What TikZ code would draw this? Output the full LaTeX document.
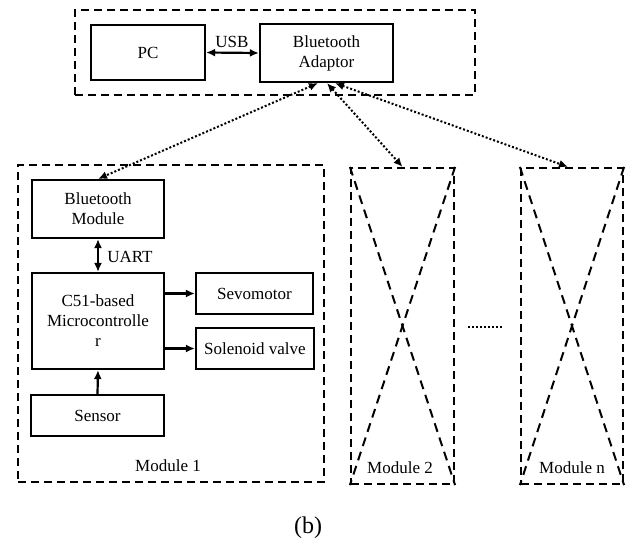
\documentclass[tikz,border=0pt]{standalone}
\usepackage{fontspec}
\setmainfont{Liberation Serif}
\usetikzlibrary{arrows.meta}
\begin{document}
\begin{tikzpicture}[x=1pt,y=-1pt,
  font=\fontsize{17}{20}\selectfont,
  box/.style={draw, line width=2.2pt, inner sep=0pt, align=center},
  dbox/.style={draw, line width=2.2pt, inner sep=0pt, dash pattern=on 8pt off 5pt},
  dcross/.style={line width=2pt, dash pattern=on 9pt off 6pt},
  arr/.style={line width=2.2pt, -{Latex[length=9pt,width=8pt]}},
  darr/.style={line width=2.2pt, {Latex[length=9pt,width=8pt]}-{Latex[length=9pt,width=8pt]}},
  dotarr/.style={line width=2pt, dash pattern=on 2pt off 2pt, {Latex[length=9pt,width=8pt]}-{Latex[length=9pt,width=8pt]}},
  lbl/.style={inner sep=0pt}]
\useasboundingbox (0,0) rectangle (630,542);
% containers
\node[dbox, minimum width=400, minimum height=85] (top) at (275,52.5) {};
\node[dbox, minimum width=306, minimum height=317] (mod1) at (171,323.5) {};
\node[dbox, minimum width=103, minimum height=316] (mod2) at (402.5,326) {};
\node[dbox, minimum width=102, minimum height=316] (modn) at (572,326) {};
\draw[dcross] (mod2.north west) -- (mod2.south east);
\draw[dcross] (mod2.north east) -- (mod2.south west);
\draw[dcross] (modn.north west) -- (modn.south east);
\draw[dcross] (modn.north east) -- (modn.south west);
% boxes
\node[box, minimum width=114, minimum height=55] (pc) at (148,52.5) {PC};
\node[box, minimum width=133, minimum height=58] (bta) at (326.5,53) {Bluetooth\\Adaptor};
\node[box, minimum width=132, minimum height=58] (btm) at (98,209) {Bluetooth\\Module};
\node[box, minimum width=132, minimum height=96] (mcu) at (98,321) {C51-based\\Microcontrolle\\r};
\node[box, minimum width=117, minimum height=41] (sevo) at (254.5,293.5) {Sevomotor};
\node[box, minimum width=118, minimum height=41] (sol) at (255,348.5) {Solenoid valve};
\node[box, minimum width=133, minimum height=41] (sens) at (97.5,415.5) {Sensor};
% labels
\node[lbl] (usb) at (232,42) {USB};
\node[lbl] (uart) at (130,257) {UART};
\node[lbl] (m1) at (168,466) {Module 1};
\node[lbl] (m2) at (400,468) {Module 2};
\node[lbl] (mn) at (572,468) {Module n};
\node[lbl, font=\fontsize{24}{28}\selectfont] (cap) at (308,528) {(b)};
% connectors
\draw[darr] (pc.east) -- (bta.west);
\draw[darr] (btm.south) -- (mcu.north);
\draw[arr] (sens.north) -- (mcu.south);
\draw[arr] (mcu.east |- sevo.west) -- (sevo.west);
\draw[arr] (mcu.east |- sol.west) -- (sol.west);
\coordinate (a1) at ([xshift=-8.5]bta.south);
\coordinate (a2) at ([xshift=0.5]bta.south);
\coordinate (a3) at ([xshift=8.5]bta.south);
\draw[dotarr] (a1) -- (btm.north);
\draw[dotarr] (a2) -- (mod2.north);
\draw[dotarr] (a3) -- ([xshift=-4]modn.north);
% dots between modules
\coordinate (d1) at (468,327);
\coordinate (d2) at (503,327);
\draw[line width=2pt, dash pattern=on 2pt off 2pt] (d1) -- (d2);
\end{tikzpicture}
\end{document}
